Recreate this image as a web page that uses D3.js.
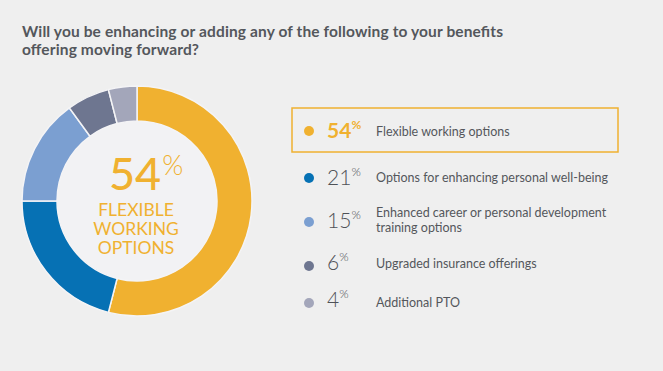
<!DOCTYPE html>
<html><head><meta charset="utf-8">
<script src="https://cdn.jsdelivr.net/npm/d3@7"></script>
<style>
html,body{margin:0;padding:0;background:#efefef;}
svg{display:block;}
</style></head>
<body>
<svg id="chart" width="663" height="371"></svg>
<script>
const title = ["Will you be enhancing or adding any of the following to your benefits", "offering moving forward?"];
const titleWidths = [481, 177];
const categories = ["Flexible working options", "Options for enhancing personal well-being", "Enhanced career or personal development training options", "Upgraded insurance offerings", "Additional PTO"];
const labelLines = [["Flexible working options"], ["Options for enhancing personal well-being"], ["Enhanced career or personal development", "training options"], ["Upgraded insurance offerings"], ["Additional PTO"]];
const values = [54, 21, 15, 6, 4];
const colors = ["#f0b130", "#0671b4", "#7b9fd1", "#6e7690", "#a3a6ba"];
const centerLabel = ["FLEXIBLE", "WORKING", "OPTIONS"];

const svg = d3.select("#chart");
const font = "Lato, 'Open Sans', sans-serif";

svg.append("rect").attr("width", 663).attr("height", 371).attr("fill", "#efefef");

// Title
svg.append("g").selectAll("text").data(title).join("text")
  .attr("x", 22).attr("y", (d, i) => 37 + i * 18)
  .attr("font-family", font).attr("font-weight", 700).attr("font-size", 15.5)
  .attr("fill", "#54575c")
  .attr("textLength", (d, i) => titleWidths[i]).attr("lengthAdjust", "spacing")
  .text(d => d);

// Donut
const cx = 137, cy = 201, rOuter = 115, rInner = 80;
const pie = d3.pie().sort(null).value(d => d)(values);
const arc = d3.arc().innerRadius(rInner).outerRadius(rOuter);
const g = svg.append("g").attr("transform", `translate(${cx},${cy})`);
g.append("circle").attr("r", rInner).attr("fill", "#f2f2f4");
g.selectAll("path").data(pie).join("path")
  .attr("d", arc).attr("fill", (d, i) => colors[i])
  .attr("stroke", "#f4f4f6").attr("stroke-width", 1.5);

// Center text
const ct = g.append("text").attr("x", -28).attr("y", -11)
  .attr("font-family", font).attr("fill", colors[0]);
ct.append("tspan").attr("font-size", 45).attr("font-weight", 500).text(values[0]);
ct.append("tspan").attr("font-size", 27).attr("font-weight", 300).attr("dx", 1).attr("dy", -15).text("%");
g.append("text").attr("text-anchor", "middle")
  .attr("font-family", font).attr("font-size", 17.5).attr("fill", colors[0])
  .selectAll("tspan").data(centerLabel).join("tspan")
  .attr("x", -1).attr("y", (d, i) => 15 + i * 19).text(d => d);

// Legend
const dotX = 309;
const dotY = [131, 178, 222, 266, 303];
const numBase = [138, 185, 228, 270, 307];
const labelBase = [136, 182, 217, 268, 307];

svg.append("rect").attr("x", 292).attr("y", 108).attr("width", 326).attr("height", 44)
  .attr("fill", "none").attr("stroke", colors[0]).attr("stroke-width", 1.5);

const rows = svg.append("g").selectAll("g").data(values).join("g");
rows.append("circle").attr("cx", dotX).attr("cy", (d, i) => dotY[i]).attr("r", 5)
  .attr("fill", (d, i) => colors[i]);
const nt = rows.append("text").attr("x", 327).attr("y", (d, i) => numBase[i])
  .attr("font-family", font)
  .attr("fill", (d, i) => i === 0 ? colors[0] : "#4f5257");
nt.append("tspan").attr("font-size", 21)
  .attr("font-weight", (d, i) => i === 0 ? 700 : 300).text(d => d);
nt.append("tspan").attr("font-size", 12).attr("dy", -9)
  .attr("font-weight", (d, i) => i === 0 ? 700 : 300).text("%");
const lt = rows.append("g");
lt.selectAll("text").data((d, i) => labelLines[i].map(t => ({ t, i }))).join("text")
  .attr("font-family", font).attr("font-size", 12.5).attr("fill", "#54575c")
  .attr("x", 376).attr("y", (d, j) => labelBase[d.i] + j * 14.5).text(d => d.t);
</script>
</body></html>
